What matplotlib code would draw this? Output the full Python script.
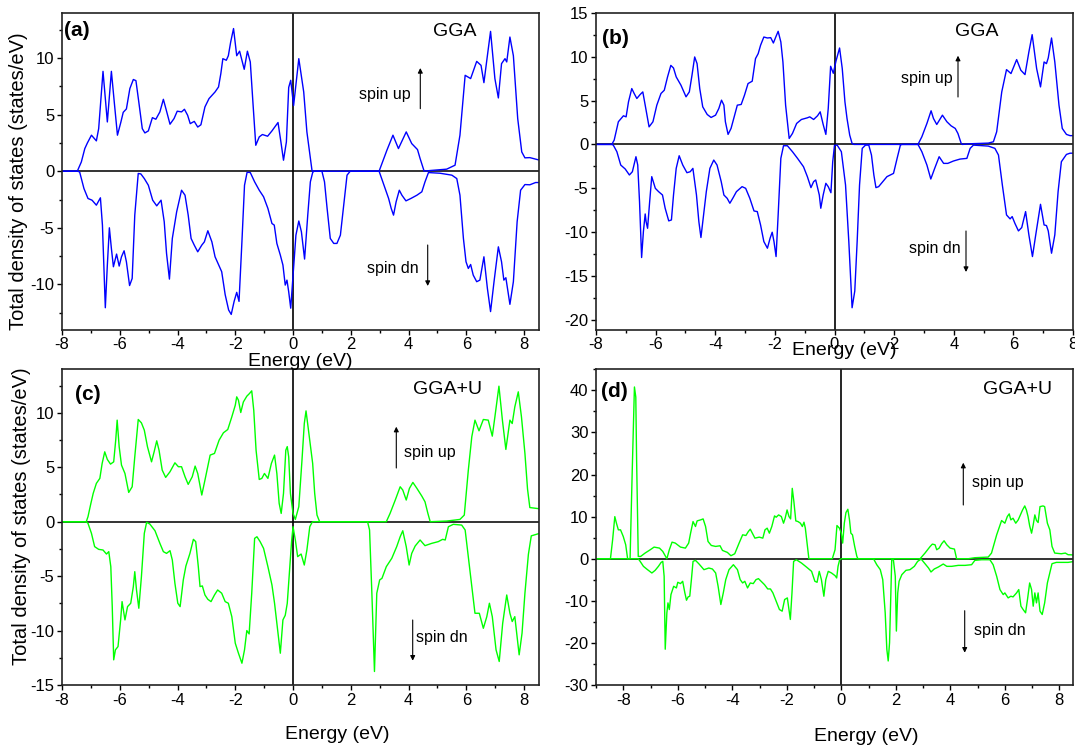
import numpy as np
import matplotlib
matplotlib.use('Agg')
import matplotlib.pyplot as plt
from matplotlib.ticker import MultipleLocator

plt.rcParams['font.family'] = ['Liberation Sans', 'DejaVu Sans']
plt.rcParams['axes.unicode_minus'] = False

# =============================================================================
# DATOS: (energía eV, DOS estados/eV)
# =============================================================================

a_up = [(-8.0, 0), (-7.47, 0), (-7.33, 0.82), (-7.21, 2.0), (-7.12, 2.5), (-6.98, 3.18), (-6.81, 2.68),
        (-6.73, 3.76), (-6.58, 8.82), (-6.43, 4.35), (-6.29, 8.82), (-6.19, 6.1), (-6.08, 3.18), (-5.96, 4.35),
        (-5.88, 5.2), (-5.77, 5.5), (-5.65, 7.3), (-5.53, 8.1), (-5.44, 8.0), (-5.34, 6.1), (-5.22, 3.76),
        (-5.13, 3.38), (-5.01, 3.56), (-4.87, 4.73), (-4.75, 4.59), (-4.61, 5.24), (-4.49, 6.35), (-4.40, 5.5),
        (-4.26, 4.15), (-4.12, 4.65), (-4.01, 5.3), (-3.86, 5.24), (-3.76, 5.47), (-3.65, 4.94), (-3.56, 4.2),
        (-3.42, 4.4), (-3.30, 3.9), (-3.19, 4.1), (-3.05, 5.68), (-2.91, 6.41), (-2.70, 7.0), (-2.58, 7.44),
        (-2.50, 8.62), (-2.43, 9.94), (-2.31, 9.8), (-2.24, 10.2), (-2.16, 11.4), (-2.06, 12.6), (-1.95, 10.2),
        (-1.85, 10.6), (-1.77, 9.8), (-1.69, 9.0), (-1.58, 10.6), (-1.48, 9.65), (-1.39, 6.12), (-1.29, 2.29),
        (-1.17, 3.03), (-1.06, 3.24), (-0.88, 3.09), (-0.73, 3.56), (-0.52, 4.3), (-0.42, 2.59), (-0.33, 0.97),
        (-0.23, 2.59), (-0.15, 7.4), (-0.08, 8.03), (0.02, 5.8), (0.20, 9.94), (0.37, 7.0), (0.48, 3.47),
        (0.66, 0), (2.98, 0), (3.25, 1.85), (3.46, 3.18), (3.65, 2.0), (3.92, 3.47), (4.11, 2.44), (4.31, 1.91),
        (4.40, 1.12), (4.54, 0), (4.75, 0.06), (5.32, 0.18), (5.61, 0.53), (5.78, 3.18), (5.96, 8.47),
        (6.15, 8.18), (6.36, 9.7), (6.51, 9.35), (6.61, 7.82), (6.73, 10.2), (6.84, 12.35), (6.99, 8.18),
        (7.11, 6.47), (7.22, 9.5), (7.34, 9.94), (7.40, 9.65), (7.51, 11.85), (7.63, 10.2), (7.78, 4.65),
        (7.92, 1.7), (8.03, 1.18), (8.2, 1.2), (8.5, 1.0)]

a_dn = [(-8.0, 0), (-7.47, 0), (-7.39, -0.06), (-7.24, -1.53), (-7.10, -2.41), (-6.96, -2.56), (-6.81, -3.0),
        (-6.67, -2.35), (-6.60, -4.76), (-6.50, -12.06), (-6.43, -8.29), (-6.36, -5.0), (-6.29, -6.82),
        (-6.22, -8.44), (-6.11, -7.32), (-6.02, -8.38), (-5.94, -7.56), (-5.85, -7.03), (-5.77, -8.0),
        (-5.66, -10.1), (-5.57, -9.47), (-5.48, -3.88), (-5.36, -0.2), (-5.27, -0.24), (-5.15, -0.65),
        (-5.01, -1.24), (-4.86, -2.56), (-4.72, -3.06), (-4.57, -2.56), (-4.46, -4.47), (-4.38, -7.26),
        (-4.28, -9.53), (-4.18, -5.94), (-4.03, -3.59), (-3.86, -1.68), (-3.74, -2.12), (-3.63, -3.88),
        (-3.53, -5.94), (-3.42, -6.53), (-3.30, -7.12), (-3.16, -6.53), (-3.07, -6.24), (-2.95, -5.26),
        (-2.81, -6.24), (-2.70, -7.56), (-2.58, -8.24), (-2.47, -8.88), (-2.35, -10.9), (-2.23, -12.26),
        (-2.14, -12.65), (-2.04, -11.5), (-1.95, -10.7), (-1.87, -11.5), (-1.77, -6.24), (-1.68, -1.24),
        (-1.59, -0.09), (-1.48, -0.12), (-1.33, -0.94), (-1.17, -1.68), (-1.02, -2.26), (-0.87, -3.29),
        (-0.73, -4.62), (-0.65, -4.76), (-0.56, -6.38), (-0.44, -7.41), (-0.35, -8.29), (-0.27, -10.06),
        (-0.21, -9.62), (-0.15, -10.65), (-0.08, -12.1), (0.0, -9.2), (0.1, -5.65), (0.2, -4.4), (0.29, -5.35),
        (0.4, -7.76), (0.51, -3.88), (0.6, -0.94), (0.68, -0.12), (0.72, 0), (1.0, 0), (1.09, -0.94),
        (1.18, -3.29), (1.29, -5.94), (1.41, -6.38), (1.52, -6.38), (1.64, -5.65), (1.77, -2.7), (1.87, -0.35),
        (1.98, 0), (2.98, 0), (3.13, -1.09), (3.31, -2.41), (3.4, -3.29), (3.48, -3.88), (3.57, -2.7),
        (3.68, -1.68), (3.77, -2.12), (3.91, -2.62), (4.08, -2.41), (4.29, -2.12), (4.46, -1.82), (4.57, -0.94),
        (4.69, -0.12), (5.09, -0.18), (5.5, -0.35), (5.67, -0.65), (5.78, -2.12), (5.9, -5.94), (5.99, -8.0),
        (6.07, -8.59), (6.15, -8.24), (6.24, -9.18), (6.36, -9.76), (6.47, -9.62), (6.61, -7.56), (6.73, -10.35),
        (6.84, -12.4), (6.96, -9.76), (7.11, -6.68), (7.22, -8.0), (7.3, -9.62), (7.37, -9.41), (7.51, -11.76),
        (7.63, -9.76), (7.76, -4.47), (7.88, -1.68), (8.03, -1.18), (8.2, -1.2), (8.4, -1.0), (8.5, -1.0)]

b_up = [(-8.0, 0), (-7.47, 0), (-7.39, 0.49), (-7.25, 2.58), (-7.08, 3.26), (-6.99, 3.14), (-6.91, 4.85),
        (-6.80, 6.36), (-6.72, 5.8), (-6.63, 5.23), (-6.52, 5.68), (-6.43, 5.98), (-6.35, 4.47), (-6.22, 2.0),
        (-6.09, 2.58), (-5.96, 4.47), (-5.82, 5.8), (-5.71, 6.17), (-5.6, 7.69), (-5.49, 9.0), (-5.4, 8.7),
        (-5.31, 7.69), (-5.15, 6.74), (-4.98, 5.42), (-4.87, 5.98), (-4.78, 7.88), (-4.69, 9.96), (-4.61, 9.2),
        (-4.52, 6.36), (-4.42, 4.28), (-4.27, 3.41), (-4.14, 3.07), (-3.99, 3.33), (-3.88, 4.09), (-3.79, 5.04),
        (-3.71, 4.47), (-3.66, 2.58), (-3.57, 1.14), (-3.47, 1.82), (-3.35, 3.33), (-3.26, 4.47), (-3.13, 4.55),
        (-3.02, 5.6), (-2.9, 6.93), (-2.76, 7.2), (-2.65, 9.77), (-2.56, 10.34), (-2.48, 11.29), (-2.37, 12.23),
        (-2.25, 12.12), (-2.14, 12.16), (-2.05, 11.55), (-1.97, 12.23), (-1.89, 12.88), (-1.8, 11.67),
        (-1.73, 9.39), (-1.64, 4.47), (-1.52, 0.68), (-1.41, 1.25), (-1.27, 2.39), (-1.11, 2.84), (-0.91, 3.03),
        (-0.83, 3.14), (-0.7, 2.84), (-0.57, 3.26), (-0.48, 3.71), (-0.38, 2.27), (-0.29, 1.14), (-0.21, 4.09),
        (-0.13, 8.9), (-0.04, 8.1), (0.05, 9.5), (0.17, 10.98), (0.26, 8.64), (0.35, 4.85), (0.42, 2.95),
        (0.51, 1.06), (0.59, 0.11), (0.65, 0), (2.8, 0), (2.93, 0.87), (3.1, 2.39), (3.24, 3.83), (3.32, 2.95),
        (3.43, 2.27), (3.62, 3.33), (3.77, 2.58), (3.91, 2.12), (4.05, 1.82), (4.14, 1.25), (4.25, 0.11),
        (4.29, 0), (4.6, 0.08), (5.16, 0.15), (5.33, 0.3), (5.44, 1.44), (5.61, 5.98), (5.77, 8.52),
        (5.92, 8.07), (6.11, 9.66), (6.25, 8.45), (6.39, 7.95), (6.52, 10.53), (6.63, 12.5), (6.78, 8.64),
        (6.91, 6.55), (7.03, 9.39), (7.11, 9.2), (7.17, 9.85), (7.28, 12.12), (7.39, 9.39), (7.53, 4.47),
        (7.64, 1.82), (7.78, 1.14), (7.9, 1.0), (8.0, 1.0)]

b_dn = [(-8.0, 0), (-7.47, 0), (-7.42, -0.08), (-7.3, -0.83), (-7.17, -2.35), (-7.02, -2.8), (-6.88, -3.48),
        (-6.78, -3.11), (-6.66, -1.4), (-6.6, -2.35), (-6.54, -6.52), (-6.47, -12.88), (-6.41, -9.92),
        (-6.35, -7.92), (-6.32, -8.79), (-6.27, -9.55), (-6.2, -6.52), (-6.13, -3.67), (-6.01, -5.0),
        (-5.9, -5.38), (-5.77, -5.76), (-5.68, -7.27), (-5.56, -8.71), (-5.47, -8.6), (-5.4, -5.76),
        (-5.31, -2.73), (-5.21, -1.29), (-5.09, -2.35), (-4.95, -3.22), (-4.84, -3.11), (-4.75, -2.73),
        (-4.63, -5.76), (-4.55, -8.79), (-4.48, -10.6), (-4.39, -8.03), (-4.3, -5.38), (-4.18, -2.73),
        (-4.05, -1.78), (-3.94, -2.35), (-3.8, -4.24), (-3.71, -5.76), (-3.6, -6.14), (-3.51, -6.7),
        (-3.4, -6.06), (-3.29, -5.38), (-3.1, -4.81), (-2.98, -5.0), (-2.84, -6.14), (-2.7, -7.58),
        (-2.59, -7.65), (-2.48, -9.17), (-2.37, -11.06), (-2.25, -11.82), (-2.16, -10.68), (-2.09, -10.0),
        (-2.03, -11.06), (-1.96, -12.77), (-1.89, -8.03), (-1.8, -1.59), (-1.71, -0.15), (-1.58, -0.15),
        (-1.41, -0.83), (-1.24, -1.59), (-1.04, -2.54), (-0.91, -3.67), (-0.79, -4.92), (-0.7, -4.24),
        (-0.63, -4.05), (-0.51, -5.76), (-0.46, -7.27), (-0.38, -5.76), (-0.29, -4.43), (-0.21, -4.81),
        (-0.12, -5.5), (-0.06, -2.0), (0.0, -0.1), (0.09, -0.08), (0.23, -0.83), (0.37, -4.62), (0.48, -11.06),
        (0.59, -18.6), (0.68, -16.7), (0.76, -11.06), (0.84, -4.62), (0.93, -0.45), (1.04, -0.08),
        (1.15, -0.08), (1.24, -1.21), (1.32, -3.48), (1.39, -4.92), (1.48, -4.81), (1.62, -4.24), (1.76, -3.67),
        (1.87, -3.48), (1.98, -3.3), (2.1, -1.59), (2.21, -0.08), (2.26, 0), (2.8, 0), (2.93, -0.83),
        (3.1, -2.35), (3.23, -3.94), (3.36, -2.73), (3.51, -1.4), (3.66, -2.16), (3.8, -2.16), (3.99, -1.89),
        (4.21, -1.67), (4.44, -1.59), (4.55, -0.45), (4.66, -0.08), (5.16, -0.19), (5.38, -0.45), (5.5, -1.21),
        (5.63, -4.62), (5.77, -8.03), (5.89, -8.48), (5.96, -8.22), (6.05, -8.98), (6.17, -9.85), (6.28, -9.47),
        (6.41, -7.65), (6.52, -10.3), (6.64, -12.77), (6.75, -10.3), (6.91, -6.82), (7.03, -9.17), (7.11, -9.24),
        (7.17, -9.85), (7.28, -12.39), (7.39, -10.3), (7.5, -5.38), (7.61, -1.97), (7.78, -1.14), (7.9, -1.0),
        (8.0, -1.0)]

c_up = [(-8.0, 0), (-7.16, 0), (-7.1, 0.46), (-7.0, 1.68), (-6.92, 2.6), (-6.81, 3.52), (-6.69, 3.98),
        (-6.61, 5.35), (-6.52, 6.42), (-6.43, 5.72), (-6.32, 5.29), (-6.21, 5.5), (-6.14, 7.49), (-6.09, 9.33),
        (-6.02, 6.88), (-5.94, 5.2), (-5.82, 4.43), (-5.69, 2.69), (-5.57, 3.21), (-5.48, 5.96), (-5.36, 9.39),
        (-5.25, 9.08), (-5.15, 8.41), (-5.04, 6.88), (-4.9, 5.5), (-4.81, 6.42), (-4.72, 7.43), (-4.64, 6.57),
        (-4.53, 4.74), (-4.41, 4.07), (-4.26, 4.59), (-4.09, 5.41), (-3.97, 5.05), (-3.86, 5.05), (-3.74, 4.13),
        (-3.63, 3.43), (-3.49, 4.13), (-3.39, 5.11), (-3.3, 4.43), (-3.16, 2.45), (-3.05, 3.82), (-2.87, 6.12),
        (-2.72, 6.27), (-2.56, 7.49), (-2.41, 8.17), (-2.26, 8.47), (-2.12, 9.63), (-2.0, 10.7), (-1.95, 11.47),
        (-1.89, 11.16), (-1.81, 10.03), (-1.72, 11.0), (-1.6, 11.53), (-1.51, 11.77), (-1.43, 12.02),
        (-1.36, 10.24), (-1.28, 6.57), (-1.17, 3.88), (-1.08, 3.98), (-0.99, 4.43), (-0.87, 3.98), (-0.75, 5.35),
        (-0.64, 6.12), (-0.56, 4.43), (-0.48, 1.68), (-0.41, 0.76), (-0.33, 2.6), (-0.25, 6.57), (-0.2, 6.9),
        (-0.15, 5.96), (-0.09, 2.6), (0.0, 0.76), (0.08, 0.21), (0.2, 1.38), (0.31, 5.66), (0.39, 9.02),
        (0.45, 10.18), (0.52, 8.72), (0.6, 7.03), (0.68, 5.35), (0.75, 2.6), (0.83, 0.61), (0.92, 0),
        (3.23, 0), (3.36, 0.76), (3.54, 1.99), (3.71, 3.21), (3.8, 2.91), (3.92, 1.99), (4.03, 3.06),
        (4.15, 3.61), (4.29, 3.06), (4.46, 2.35), (4.57, 1.83), (4.67, 0.76), (4.75, 0), (5.32, 0.06),
        (5.78, 0.21), (5.93, 0.61), (6.07, 4.74), (6.19, 7.8), (6.3, 9.33), (6.44, 8.35), (6.59, 9.39),
        (6.76, 9.33), (6.9, 7.86), (6.99, 9.63), (7.13, 12.45), (7.25, 9.33), (7.37, 6.64), (7.51, 9.33),
        (7.59, 9.02), (7.68, 10.55), (7.8, 11.93), (7.91, 9.63), (8.03, 6.27), (8.12, 3.0), (8.2, 1.3),
        (8.5, 1.2)]

c_dn = [(-8.0, 0), (-7.16, 0), (-7.1, -0.15), (-6.98, -1.07), (-6.87, -2.29), (-6.73, -2.54), (-6.58, -2.6),
        (-6.46, -2.97), (-6.38, -2.75), (-6.31, -4.13), (-6.26, -7.8), (-6.21, -12.69), (-6.15, -11.77),
        (-6.06, -11.47), (-5.97, -9.02), (-5.92, -7.34), (-5.82, -9.02), (-5.73, -7.8), (-5.62, -7.49),
        (-5.53, -5.96), (-5.48, -4.59), (-5.42, -6.27), (-5.34, -7.95), (-5.25, -5.05), (-5.15, -1.07),
        (-5.07, -0.06), (-4.96, -0.21), (-4.78, -0.83), (-4.61, -1.99), (-4.49, -2.75), (-4.38, -2.91),
        (-4.26, -2.66), (-4.18, -3.52), (-4.09, -5.66), (-3.99, -7.49), (-3.91, -7.8), (-3.8, -5.35),
        (-3.71, -4.07), (-3.57, -2.91), (-3.45, -1.62), (-3.37, -1.83), (-3.28, -4.13), (-3.22, -5.96),
        (-3.14, -5.9), (-3.05, -6.73), (-2.95, -7.13), (-2.84, -7.34), (-2.72, -6.73), (-2.61, -6.27),
        (-2.47, -6.57), (-2.35, -7.34), (-2.24, -7.49), (-2.12, -8.72), (-2.0, -11.16), (-1.89, -12.08),
        (-1.77, -13.0), (-1.68, -11.77), (-1.6, -10.0), (-1.52, -10.31), (-1.43, -6.57), (-1.33, -1.53),
        (-1.25, -1.38), (-1.14, -1.83), (-1.02, -2.45), (-0.87, -4.13), (-0.73, -5.81), (-0.64, -7.49),
        (-0.52, -10.24), (-0.44, -12.08), (-0.35, -9.02), (-0.27, -8.6), (-0.2, -7.5), (-0.12, -4.5),
        (-0.05, -1.8), (0.0, -0.46), (0.08, -1.68), (0.16, -3.21), (0.28, -2.97), (0.39, -3.98), (0.48, -2.6),
        (0.58, -0.46), (0.66, -0.06), (0.7, 0), (2.58, 0), (2.65, -0.76), (2.73, -6.57), (2.82, -13.76),
        (2.9, -6.57), (3.0, -5.35), (3.08, -5.2), (3.23, -4.13), (3.42, -3.36), (3.59, -2.29), (3.71, -1.38),
        (3.8, -0.83), (3.92, -2.29), (4.02, -3.98), (4.11, -2.91), (4.23, -2.23), (4.4, -1.68), (4.57, -2.2),
        (4.8, -1.99), (5.03, -1.83), (5.18, -1.62), (5.27, -1.68), (5.38, -0.46), (5.55, -0.24), (5.84, -0.31),
        (5.96, -0.76), (6.07, -3.21), (6.19, -5.96), (6.3, -8.41), (6.45, -8.41), (6.59, -9.79), (6.71, -8.72),
        (6.8, -7.49), (6.9, -8.72), (7.03, -11.77), (7.14, -12.84), (7.26, -9.33), (7.4, -6.73), (7.51, -8.41),
        (7.59, -9.17), (7.68, -8.72), (7.77, -10.86), (7.83, -12.23), (7.93, -10.24), (8.03, -6.57),
        (8.15, -3.0), (8.25, -1.3), (8.5, -1.1)]

d_up = [(-9.0, 0), (-8.47, 0), (-8.39, 4.5), (-8.31, 10.0), (-8.25, 8.44), (-8.18, 6.86), (-8.1, 6.86),
        (-8.0, 5.28), (-7.91, 3.31), (-7.84, 0), (-7.75, 0), (-7.67, 21.06), (-7.59, 40.8), (-7.54, 38.4),
        (-7.51, 23.4), (-7.45, 0.55), (-7.36, 0.55), (-7.2, 1.34), (-7.01, 2.13), (-6.87, 2.76), (-6.67, 2.52),
        (-6.55, 1.73), (-6.4, 0), (-6.31, 2.13), (-6.21, 3.94), (-6.09, 3.71), (-5.9, 2.76), (-5.72, 2.52),
        (-5.6, 3.71), (-5.53, 6.07), (-5.44, 8.83), (-5.35, 7.65), (-5.29, 8.99), (-5.16, 9.23), (-5.07, 9.46),
        (-4.98, 7.65), (-4.89, 4.1), (-4.77, 3.15), (-4.61, 2.92), (-4.45, 3.08), (-4.36, 1.97), (-4.18, 1.5),
        (-4.05, 0.71), (-3.91, 1.18), (-3.75, 3.71), (-3.62, 5.68), (-3.5, 5.52), (-3.41, 6.47), (-3.34, 7.02),
        (-3.25, 5.91), (-3.17, 4.89), (-3.01, 5.13), (-2.88, 4.89), (-2.8, 6.86), (-2.72, 7.26), (-2.64, 6.07),
        (-2.55, 7.65), (-2.45, 10.17), (-2.39, 9.86), (-2.3, 10.41), (-2.2, 10.02), (-2.12, 8.44), (-2.06, 9.62),
        (-1.99, 11.59), (-1.92, 10.02), (-1.86, 9.46), (-1.8, 16.72), (-1.74, 13.56), (-1.67, 8.99),
        (-1.59, 8.83), (-1.5, 8.44), (-1.43, 7.65), (-1.37, 8.68), (-1.32, 7.26), (-1.24, 2.92), (-1.19, 0),
        (-0.33, 0), (-0.23, 2.13), (-0.16, 7.89), (-0.07, 7.26), (0.0, 6.07), (0.05, 3.71), (0.11, 8.44),
        (0.17, 10.96), (0.24, 11.75), (0.3, 9.23), (0.35, 6.07), (0.41, 5.68), (0.49, 2.92), (0.57, 0.55),
        (0.61, 0), (2.89, 0), (3.07, 1.34), (3.26, 2.92), (3.34, 3.47), (3.44, 3.31), (3.5, 2.13), (3.59, 2.52),
        (3.68, 3.55), (3.77, 4.26), (3.87, 3.31), (3.99, 2.52), (4.15, 2.29), (4.23, 0), (4.66, 0), (4.9, 0.24),
        (5.39, 0.39), (5.51, 1.34), (5.7, 5.68), (5.88, 9.07), (6.0, 8.44), (6.09, 10.02), (6.16, 10.65),
        (6.22, 9.23), (6.3, 9.62), (6.4, 8.44), (6.49, 9.23), (6.57, 10.41), (6.65, 11.59), (6.73, 12.54),
        (6.79, 11.59), (6.85, 10.02), (6.91, 7.81), (6.98, 6.07), (7.04, 8.04), (7.1, 10.41), (7.16, 9.07),
        (7.22, 8.6), (7.29, 12.38), (7.4, 12.54), (7.46, 12.38), (7.56, 8.44), (7.65, 6.86), (7.73, 2.92),
        (7.83, 1.34), (8.07, 1.18), (8.22, 1.34), (8.32, 0.95), (8.5, 0.9)]

d_dn = [(-9.0, 0), (-7.45, 0), (-7.38, -0.63), (-7.26, -1.81), (-7.11, -2.6), (-6.95, -3.39), (-6.83, -2.76),
        (-6.71, -1.81), (-6.61, -0.87), (-6.55, -0.63), (-6.5, -4.18), (-6.46, -21.5), (-6.4, -12.85),
        (-6.36, -10.49), (-6.31, -12.07), (-6.25, -8.52), (-6.15, -6.55), (-6.05, -6.94), (-6.0, -5.6),
        (-5.9, -5.91), (-5.82, -5.36), (-5.74, -8.12), (-5.68, -9.86), (-5.62, -9.07), (-5.56, -8.91),
        (-5.5, -4.97), (-5.44, -0.63), (-5.35, -0.39), (-5.23, -1.18), (-5.04, -2.6), (-4.86, -2.21),
        (-4.73, -2.44), (-4.61, -3.39), (-4.52, -6.55), (-4.42, -10.88), (-4.33, -8.12), (-4.24, -4.97),
        (-4.12, -2.6), (-3.96, -1.42), (-3.81, -2.6), (-3.71, -4.97), (-3.62, -5.76), (-3.54, -5.36),
        (-3.44, -6.94), (-3.34, -5.76), (-3.23, -5.91), (-3.13, -4.97), (-3.04, -4.73), (-2.94, -5.36),
        (-2.82, -6.15), (-2.7, -7.18), (-2.6, -7.18), (-2.51, -8.12), (-2.39, -10.09), (-2.27, -12.07),
        (-2.17, -12.46), (-2.08, -9.7), (-1.98, -9.31), (-1.92, -12.07), (-1.87, -14.43), (-1.81, -8.12),
        (-1.75, -0.63), (-1.65, -0.24), (-1.46, -1.03), (-1.28, -1.97), (-1.09, -3.0), (-0.97, -5.36),
        (-0.89, -5.6), (-0.81, -3.0), (-0.73, -4.97), (-0.64, -8.91), (-0.57, -4.97), (-0.48, -3.0),
        (-0.36, -3.39), (-0.23, -4.02), (-0.17, -4.57), (-0.12, -1.81), (-0.06, -0.24), (0.0, 0), (1.18, 0),
        (1.3, -1.42), (1.43, -2.6), (1.52, -4.97), (1.61, -12.85), (1.67, -21.53), (1.72, -24.29),
        (1.77, -19.95), (1.82, -8.12), (1.85, -0.24), (1.91, -0.24), (1.98, -4.18), (2.02, -17.19),
        (2.07, -8.12), (2.12, -5.36), (2.22, -3.79), (2.37, -2.76), (2.52, -2.6), (2.68, -1.81), (2.8, -0.63),
        (2.93, -0.08), (3.07, -1.18), (3.2, -2.21), (3.29, -3.15), (3.41, -2.44), (3.56, -1.97), (3.74, -1.26),
        (3.87, -1.81), (4.05, -1.81), (4.29, -1.58), (4.54, -1.58), (4.78, -1.42), (4.9, -0.39), (5.15, -0.24),
        (5.45, -0.24), (5.57, -1.42), (5.7, -4.18), (5.82, -7.33), (5.94, -8.52), (6.0, -8.12), (6.12, -9.31),
        (6.22, -8.91), (6.3, -9.07), (6.43, -8.12), (6.51, -7.33), (6.59, -11.28), (6.67, -12.07),
        (6.76, -12.85), (6.83, -9.7), (6.91, -5.76), (6.98, -7.33), (7.04, -11.28), (7.1, -8.12),
        (7.16, -10.49), (7.22, -8.12), (7.29, -12.46), (7.37, -13.25), (7.46, -10.49), (7.56, -5.76),
        (7.65, -3.39), (7.73, -1.18), (7.89, -0.87), (8.32, -0.87), (8.5, -0.7)]

# =============================================================================
# FIGURA (coordenadas en píxeles de la imagen, origen arriba a la izquierda)
# =============================================================================

W, H = 1075, 749
BLUE = '#0000ff'
GREEN = '#00ff00'


def rect(x0, y0, x1, y1):
    return [x0 / W, 1 - y1 / H, (x1 - x0) / W, (y1 - y0) / H]


def fp(x, y):
    # píxel de imagen -> fracción de figura
    return x / W, 1 - y / H


fig = plt.figure(figsize=(W / 100, H / 100), dpi=100)

paneles = [
    dict(r=rect(62, 12.7, 538.5, 329.7), xlim=(-8, 8.5), ylim=(-14, 14), ymaj=5, up=a_up, dn=a_dn,
         col=BLUE, tag='(a)', tag_xy=(64, 31), met='GGA', met_xy=(433, 31),
         up_xy=(359, 94), dn_xy=(367, 268.7), up_ar=(420.3, 108.7, 68), dn_ar=(427.7, 245, 286),
         xl_xy=(300, 366)),
    dict(r=rect(596, 12.7, 1073, 329.7), xlim=(-8, 8), ylim=(-21.1, 15), ymaj=5, up=b_up, dn=b_dn,
         col=BLUE, tag='(b)', tag_xy=(602, 38), met='GGA', met_xy=(955, 31),
         up_xy=(901, 78.7), dn_xy=(909, 248.7), up_ar=(958, 97, 55.7), dn_ar=(966, 231, 272),
         xl_xy=(844, 355.5)),
    dict(r=rect(62, 369.3, 538.5, 685), xlim=(-8, 8.5), ylim=(-15, 14), ymaj=5, up=c_up, dn=c_dn,
         col=GREEN, tag='(c)', tag_xy=(75, 395), met='GGA+U', met_xy=(413, 389),
         up_xy=(404, 452), dn_xy=(416, 637.7), up_ar=(396.3, 468, 426.7), dn_ar=(412.7, 620, 660.7),
         xl_xy=(337, 739)),
    dict(r=rect(596, 369.3, 1073, 685), xlim=(-9, 8.5), ylim=(-30, 45), ymaj=10, up=d_up, dn=d_dn,
         col=GREEN, tag='(d)', tag_xy=(601, 391.7), met='GGA+U', met_xy=(983, 390),
         up_xy=(972, 482.7), dn_xy=(973.7, 630.7), up_ar=(963.3, 505, 462.7), dn_ar=(964.7, 610.7, 652.7),
         xl_xy=(866.7, 741)),
]

for p in paneles:
    ax = fig.add_axes(p['r'])
    ax.axhline(0, color='#333333', lw=1.4, zorder=1)
    ax.axvline(0, color='black', lw=1.2, zorder=1)
    for serie in (p['up'], p['dn']):
        s = np.array(serie)
        ax.plot(s[:, 0], s[:, 1], color=p['col'], lw=1.0, zorder=2,
                solid_joinstyle='round', solid_capstyle='round')
    ax.set_xlim(*p['xlim'])
    ax.set_ylim(*p['ylim'])
    ax.xaxis.set_major_locator(MultipleLocator(2))
    ax.xaxis.set_minor_locator(MultipleLocator(1))
    ax.yaxis.set_major_locator(MultipleLocator(p['ymaj']))
    ax.yaxis.set_minor_locator(MultipleLocator(p['ymaj'] / 2))
    ax.tick_params(which='both', direction='out', top=False, right=False, labelsize=12, width=1.0)
    ax.tick_params(which='major', length=3.5, pad=2)
    ax.tick_params(which='minor', length=2)
    for sp in ax.spines.values():
        sp.set_linewidth(1.2)
        sp.set_color('#222222')

    fig.text(*fp(*p['tag_xy']), p['tag'], fontsize=15, fontweight='bold', ha='left', va='center')
    fig.text(*fp(*p['met_xy']), p['met'], fontsize=14, ha='left', va='center')
    fig.text(*fp(*p['up_xy']), 'spin up', fontsize=11.5, ha='left', va='center')
    fig.text(*fp(*p['dn_xy']), 'spin dn', fontsize=11.5, ha='left', va='center')
    fig.text(*fp(*p['xl_xy']), 'Energy (eV)', fontsize=14, ha='center', va='baseline')
    for (x, y0, y1) in (p['up_ar'], p['dn_ar']):
        ax.annotate('', xy=(x, H - y1), xytext=(x, H - y0), xycoords='figure pixels',
                    arrowprops=dict(arrowstyle='-|>', color='black', lw=0.8,
                                    mutation_scale=7, shrinkA=0, shrinkB=0))

fig.text(*fp(19, 181), 'Total density of states (states/eV)', fontsize=14.5,
         rotation=90, ha='center', va='center')
fig.text(*fp(22, 516), 'Total density of states (states/eV)', fontsize=14.5,
         rotation=90, ha='center', va='center')

fig.savefig('out.png', dpi=100)
